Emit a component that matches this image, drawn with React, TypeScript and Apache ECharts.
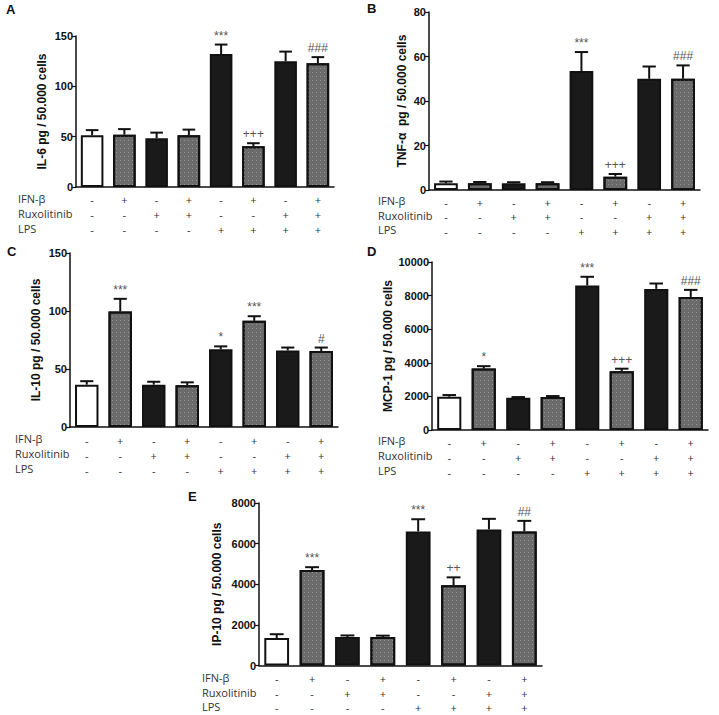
import React, { useEffect, useRef } from 'react';
import * as echarts from 'echarts';

// Treatment table (one entry per bar)
const ifnB = ['-', '+', '-', '+', '-', '+', '-', '+'];
const ruxolitinib = ['-', '-', '+', '+', '-', '-', '+', '+'];
const lps = ['-', '-', '-', '-', '+', '+', '+', '+'];
const categories = ifnB.map((v, i) => `${v}${ruxolitinib[i]}${lps[i]}`);
const rowLabels = ['IFN-β', 'Ruxolitinib', 'LPS'];
const fillKinds = ['white', 'dotted', 'black', 'dotted', 'black', 'dotted', 'black', 'dotted'];

// A: IL-6
const il6Mean = [51.5, 52, 48.5, 51.5, 132, 40.5, 125, 123];
const il6Sem = [5, 5.5, 5.5, 5.5, 9.5, 3, 9.5, 6];
const il6Marks = ['', '', '', '', '***', '+++', '', '###'];
// B: TNF-α
const tnfMean = [3, 3, 3, 3, 53.5, 6, 50, 50];
const tnfSem = [0.8, 0.6, 0.5, 0.5, 8.5, 1.2, 5.5, 6];
const tnfMarks = ['', '', '', '', '***', '+++', '', '###'];
// C: IL-10
const il10Mean = [36.5, 99.5, 36.5, 36, 67, 91.5, 66, 65.5];
const il10Sem = [3, 11, 2.5, 2.5, 2.5, 4, 2.5, 3];
const il10Marks = ['', '***', '', '', '*', '***', '', '#'];
// D: MCP-1
const mcpMean = [1980, 3660, 1920, 1960, 8600, 3500, 8400, 7920];
const mcpSem = [100, 140, 40, 60, 520, 150, 320, 420];
const mcpMarks = ['', '*', '', '', '***', '+++', '', '###'];
// E: IP-10
const ipMean = [1350, 4700, 1400, 1400, 6600, 3950, 6700, 6600];
const ipSem = [190, 140, 80, 70, 600, 390, 520, 520];
const ipMarks = ['', '***', '', '', '***', '++', '', '##'];

const panels = [
  { letter: 'A', name: 'IL-6 pg / 50.000 cells', mean: il6Mean, sem: il6Sem, marks: il6Marks, max: 150, interval: 50,
    grid: { left: 76, top: 36, width: 258, height: 151 }, nameGap: 28, lh: 15, margin: 5, rowX: 18, letterPos: [6, 10] },
  { letter: 'B', name: 'TNF-α  pg / 50.000 cells', mean: tnfMean, sem: tnfSem, marks: tnfMarks, max: 80, interval: 20,
    grid: { left: 429, top: 12, width: 271, height: 178 }, nameGap: 21, lh: 14.5, margin: 5, rowX: 378, letterPos: [367, 9] },
  { letter: 'C', name: 'IL-10 pg / 50.000 cells', mean: il10Mean, sem: il10Sem, marks: il10Marks, max: 150, interval: 50,
    grid: { left: 70, top: 253, width: 268, height: 174 }, nameGap: 28, lh: 15, margin: 5.5, rowX: 15, letterPos: [7, 252] },
  { letter: 'D', name: 'MCP-1 pg / 50.000 cells', mean: mcpMean, sem: mcpSem, marks: mcpMarks, max: 10000, interval: 2000,
    grid: { left: 432, top: 262, width: 276, height: 168 }, nameGap: 38, lh: 15, margin: 4.5, rowX: 378, letterPos: [367, 252] },
  { letter: 'E', name: 'IP-10 pg / 50.000 cells', mean: ipMean, sem: ipSem, marks: ipMarks, max: 8000, interval: 2000,
    grid: { left: 259, top: 503, width: 283, height: 163 }, nameGap: 36, lh: 14.5, margin: 6, rowX: 202, letterPos: [188, 497] },
];

const AXIS = '#111';
const TABLE_FONT = 11;
const barStyle = (kind: string) => {
  if (kind === 'white') return { color: '#ffffff', borderColor: '#111', borderWidth: 2 };
  if (kind === 'black') return { color: '#1a1a1a', borderColor: '#111', borderWidth: 2 };
  return {
    color: '#6b6b6b', borderColor: '#111', borderWidth: 2,
    decal: { symbol: 'rect', symbolSize: 1, dashArrayX: [1, 3], dashArrayY: [1, 3], color: '#959595' },
  };
};

export default function App() {
  const ref = useRef<HTMLDivElement>(null);
  useEffect(() => {
    if (!ref.current) return;
    const chart = echarts.init(ref.current, undefined, { renderer: 'svg' });
    const grids: any[] = [];
    const xAxes: any[] = [];
    const yAxes: any[] = [];
    const series: any[] = [];
    const graphics: any[] = [];
    panels.forEach((p, i) => {
      grids.push({ ...p.grid, containLabel: false });
      xAxes.push({
        type: 'category', gridIndex: i, data: categories,
        axisLine: { lineStyle: { color: AXIS, width: 1.5 } },
        axisTick: { alignWithLabel: true, length: 4, lineStyle: { color: AXIS, width: 1.2 } },
        axisLabel: {
          interval: 0, margin: p.margin, lineHeight: p.lh, fontSize: TABLE_FONT, color: '#333', fontFamily: 'Open Sans',
          formatter: (_v: string, j: number) => `${ifnB[j]}\n${ruxolitinib[j]}\n${lps[j]}`,
        },
      });
      yAxes.push({
        type: 'value', gridIndex: i, min: 0, max: p.max, interval: p.interval,
        name: p.name, nameLocation: 'middle', nameGap: p.nameGap,
        nameTextStyle: { fontFamily: 'Liberation Sans', fontWeight: 'bold', fontSize: 12, color: '#111' },
        axisLine: { show: true, lineStyle: { color: AXIS, width: 1.5 } },
        axisTick: { show: true, length: 4, lineStyle: { color: AXIS, width: 1.2 } },
        splitLine: { show: false },
        axisLabel: {
          fontFamily: 'Liberation Sans', fontWeight: 'bold', fontSize: 11, color: '#111', margin: 3,
          formatter: (v: number) => String(v),
        },
      });
      series.push({
        type: 'bar', xAxisIndex: i, yAxisIndex: i, barWidth: '70%',
        data: p.mean.map((v, j) => ({ value: v, itemStyle: barStyle(fillKinds[j]) })),
      });
      series.push({
        type: 'custom', xAxisIndex: i, yAxisIndex: i, z: 5,
        encode: { x: 0, y: [1, 2] },
        data: p.mean.map((m, j) => [j, m, m + p.sem[j], j]),
        renderItem: (_params: any, api: any) => {
          const x = api.value(0);
          const base = api.coord([x, api.value(1)]);
          const top = api.coord([x, api.value(2)]);
          const bw = api.size([1, 0])[0] * 0.7;
          const capHalf = bw * 0.28;
          const mark = p.marks[api.value(3)];
          const children: any[] = [
            { type: 'line', shape: { x1: base[0], y1: base[1], x2: base[0], y2: top[1] }, style: { stroke: '#111', lineWidth: 2 } },
            { type: 'line', shape: { x1: base[0] - capHalf, y1: top[1], x2: base[0] + capHalf, y2: top[1] }, style: { stroke: '#111', lineWidth: 2 } },
          ];
          if (mark) {
            children.push({
              type: 'text',
              style: { text: mark, x: base[0], y: top[1] - 3, align: 'center', verticalAlign: 'bottom', fill: '#555', font: '12px "Liberation Sans"' },
            });
          }
          return { type: 'group', children };
        },
      });
      // table row labels
      const axisY = p.grid.top + p.grid.height;
      rowLabels.forEach((t, k) => {
        graphics.push({
          type: 'text', left: p.rowX, top: axisY + p.margin + p.lh * k + (p.lh - 14) / 2,
          style: { text: t, fill: '#333', font: `${TABLE_FONT}px "Open Sans"` },
        });
      });
      graphics.push({
        type: 'text', left: p.letterPos[0], top: p.letterPos[1] - 7,
        style: { text: p.letter, fill: '#111', font: 'bold 13px "Liberation Sans"' },
      });
    });
    chart.setOption({
      animation: false,
      backgroundColor: '#ffffff',
      grid: grids,
      xAxis: xAxes,
      yAxis: yAxes,
      series,
      graphic: graphics,
    });
    return () => chart.dispose();
  }, []);
  return <div ref={ref} style={{ position: 'fixed', left: 0, top: 0, width: 719, height: 715, background: '#fff' }} />;
}
